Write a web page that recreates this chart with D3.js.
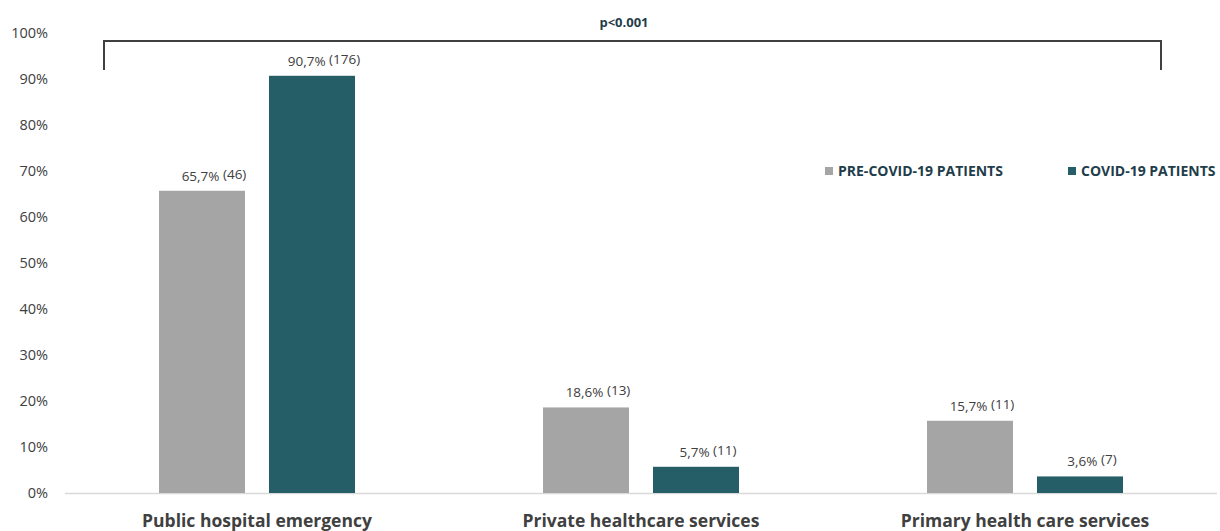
<!DOCTYPE html>
<html>
<head>
<meta charset="utf-8">
<script src="https://cdn.jsdelivr.net/npm/d3@7"></script>
<style>
  body { margin: 0; background: #fff; }
  text { font-family: "Open Sans", "Liberation Sans", sans-serif; }
</style>
</head>
<body>
<div id="chart"></div>
<script>
var categories = ["Public hospital emergency", "Private healthcare services", "Primary health care services"];
var series = ["PRE-COVID-19 PATIENTS", "COVID-19 PATIENTS"];
var preCovid = [65.7, 18.6, 15.7];
var covid = [90.7, 5.7, 3.6];
var preCovidN = [46, 13, 11];
var covidN = [176, 11, 7];
var yTicks = [0, 10, 20, 30, 40, 50, 60, 70, 80, 90, 100];
var pValue = "p<0.001";

var colors = ["#a5a5a5", "#255e66"];

var w = 1220;
var h = 531;

var svg = d3.select("#chart")
    .append("svg")
    .attr("width", w)
    .attr("height", h);

var x0 = d3.scaleBand()
    .domain(categories)
    .range([65, 1217]);

var bw = x0.bandwidth();
var x1 = d3.scaleBand()
    .domain(series)
    .range([bw / 2 - 98, bw / 2 + 98])
    .paddingInner(24 / 110);

var y = d3.scaleLinear()
    .domain([0, 100])
    .range([493, 33]);

// y axis labels, no line
var yaxis = d3.axisLeft(y)
    .tickValues(yTicks)
    .tickSize(0)
    .tickPadding(0)
    .tickFormat(function(d) { return d + "%"; });

var gy = svg.append("g")
    .attr("transform", "translate(48,0)")
    .call(yaxis);
gy.select(".domain").remove();
gy.selectAll("text")
    .attr("font-size", "14.5px")
    .attr("fill", "#404040")
    .style("font-family", "'Open Sans', sans-serif");

// baseline
svg.append("line")
    .attr("x1", 65)
    .attr("x2", 1217)
    .attr("y1", y(0) + 0.5)
    .attr("y2", y(0) + 0.5)
    .attr("stroke", "#d9d9d9")
    .attr("stroke-width", 1.5);

var rows = categories.map(function(c, i) {
    return [
        { cat: c, s: series[0], v: preCovid[i], n: preCovidN[i], k: 0 },
        { cat: c, s: series[1], v: covid[i], n: covidN[i], k: 1 }
    ];
});

var groups = svg.selectAll("g.group")
    .data(rows)
    .enter()
    .append("g")
    .attr("class", "group")
    .attr("transform", function(d, i) { return "translate(" + x0(categories[i]) + ",0)"; });

groups.selectAll("rect")
    .data(function(d) { return d; })
    .enter()
    .append("rect")
    .attr("x", function(d) { return x1(d.s); })
    .attr("y", function(d) { return y(d.v); })
    .attr("width", x1.bandwidth())
    .attr("height", function(d) { return y(0) - y(d.v); })
    .attr("fill", function(d) { return colors[d.k]; });

var labels = groups.selectAll("text.lbl")
    .data(function(d) { return d; })
    .enter()
    .append("text")
    .attr("class", "lbl")
    .attr("x", function(d) { return x1(d.s) + x1.bandwidth() / 2 + 12; })
    .attr("y", function(d) { return y(d.v) - 10; })
    .attr("text-anchor", "middle")
    .attr("font-size", "13.5px")
    .attr("fill", "#404040");

labels.append("tspan")
    .text(function(d) { return String(d.v).replace(".", ",") + "% "; });
labels.append("tspan")
    .attr("dy", -2)
    .text(function(d) { return "(" + d.n + ")"; });

// category labels
svg.selectAll("text.cat")
    .data(categories)
    .enter()
    .append("text")
    .attr("class", "cat")
    .attr("x", function(d) { return x0(d) + bw / 2; })
    .attr("y", 527)
    .attr("text-anchor", "middle")
    .attr("font-size", "17.5px")
    .attr("font-weight", "bold")
    .attr("fill", "#404040")
    .text(function(d) { return d; });

// significance bracket
svg.append("path")
    .attr("d", "M104,70 V41 H1161 V70")
    .attr("fill", "none")
    .attr("stroke", "#404040")
    .attr("stroke-width", 2);

svg.append("text")
    .attr("x", 624)
    .attr("y", 27)
    .attr("text-anchor", "middle")
    .attr("font-size", "13px")
    .attr("font-weight", "bold")
    .attr("fill", "#1f3d4a")
    .text(pValue);

// legend
var legendX = [825, 1068];
var legend = svg.selectAll("g.legend")
    .data(series)
    .enter()
    .append("g")
    .attr("class", "legend")
    .attr("transform", function(d, i) { return "translate(" + legendX[i] + ",167)"; });

legend.append("rect")
    .attr("width", 8)
    .attr("height", 8)
    .attr("fill", function(d, i) { return colors[i]; });

legend.append("text")
    .attr("x", 13)
    .attr("y", 9)
    .attr("font-size", "14px")
    .attr("font-weight", "bold")
    .attr("fill", "#1f3d4a")
    .text(function(d) { return d; });
</script>
</body>
</html>
